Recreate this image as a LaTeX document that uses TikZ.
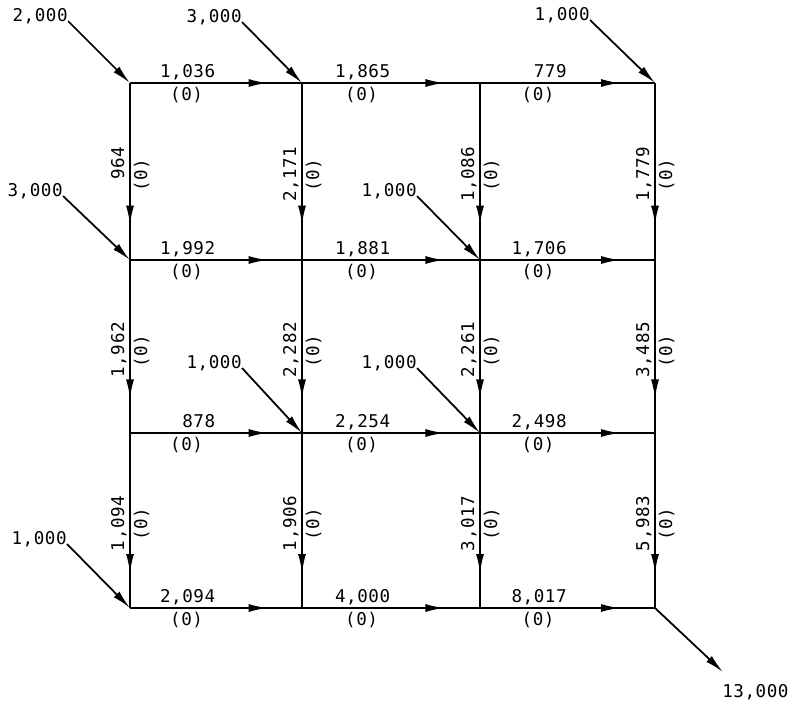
\documentclass[tikz,border=0pt]{standalone}
\usepackage{fontspec}
\usetikzlibrary{arrows.meta, decorations.markings}
\newfontfamily\flowmono{DejaVu Sans Mono}[LetterSpace=3]

\begin{document}
\begin{tikzpicture}[
      flow/.style={line width=1pt, postaction={decorate},
        decoration={markings, mark=at position 0.8 with {\arrow{Latex[length=0.38cm,width=0.16cm]}}}},
      inflow/.style={line width=1pt, -{Latex[length=0.38cm,width=0.16cm]}},
      amount/.style={font={\flowmono\fontsize{10}{12}\selectfont}, inner sep=0pt},
      val/.style={amount, text width=1.14cm, align=right, text depth=0pt, inner ysep=0.1cm, pos=0.5, anchor=south east},
      zero/.style={amount, text width=1.14cm, align=center, inner ysep=0.06cm, pos=0.5, anchor=north east},
      vval/.style={val, rotate=90, pos=0.355},
      vzero/.style={zero, rotate=90, pos=0.355},
    ]
    \useasboundingbox (0,0) rectangle (15.8,-14);

    % junctions
    \coordinate (j11) at (2.6,-1.66);
    \coordinate (j12) at (6.04,-1.66);
    \coordinate (j13) at (9.6,-1.66);
    \coordinate (j14) at (13.1,-1.66);
    \coordinate (j21) at (2.6,-5.2);
    \coordinate (j22) at (6.04,-5.2);
    \coordinate (j23) at (9.6,-5.2);
    \coordinate (j24) at (13.1,-5.2);
    \coordinate (j31) at (2.6,-8.66);
    \coordinate (j32) at (6.04,-8.66);
    \coordinate (j33) at (9.6,-8.66);
    \coordinate (j34) at (13.1,-8.66);
    \coordinate (j41) at (2.6,-12.16);
    \coordinate (j42) at (6.04,-12.16);
    \coordinate (j43) at (9.6,-12.16);
    \coordinate (j44) at (13.1,-12.16);

    % horizontal pipes
    \draw[flow] (j11) -- node[val] {1,036} node[zero] {(0)} (j12);
    \draw[flow] (j12) -- node[val] {1,865} node[zero] {(0)} (j13);
    \draw[flow] (j13) -- node[val] {779} node[zero] {(0)} (j14);
    \draw[flow] (j21) -- node[val] {1,992} node[zero] {(0)} (j22);
    \draw[flow] (j22) -- node[val] {1,881} node[zero] {(0)} (j23);
    \draw[flow] (j23) -- node[val] {1,706} node[zero] {(0)} (j24);
    \draw[flow] (j31) -- node[val] {878} node[zero] {(0)} (j32);
    \draw[flow] (j32) -- node[val] {2,254} node[zero] {(0)} (j33);
    \draw[flow] (j33) -- node[val] {2,498} node[zero] {(0)} (j34);
    \draw[flow] (j41) -- node[val] {2,094} node[zero] {(0)} (j42);
    \draw[flow] (j42) -- node[val] {4,000} node[zero] {(0)} (j43);
    \draw[flow] (j43) -- node[val] {8,017} node[zero] {(0)} (j44);

    % vertical pipes
    \draw[flow] (j11) -- node[vval] {964} node[vzero] {(0)} (j21);
    \draw[flow] (j21) -- node[vval] {1,962} node[vzero] {(0)} (j31);
    \draw[flow] (j31) -- node[vval] {1,094} node[vzero] {(0)} (j41);
    \draw[flow] (j12) -- node[vval] {2,171} node[vzero] {(0)} (j22);
    \draw[flow] (j22) -- node[vval] {2,282} node[vzero] {(0)} (j32);
    \draw[flow] (j32) -- node[vval] {1,906} node[vzero] {(0)} (j42);
    \draw[flow] (j13) -- node[vval] {1,086} node[vzero] {(0)} (j23);
    \draw[flow] (j23) -- node[vval] {2,261} node[vzero] {(0)} (j33);
    \draw[flow] (j33) -- node[vval] {3,017} node[vzero] {(0)} (j43);
    \draw[flow] (j14) -- node[vval] {1,779} node[vzero] {(0)} (j24);
    \draw[flow] (j24) -- node[vval] {3,485} node[vzero] {(0)} (j34);
    \draw[flow] (j34) -- node[vval] {5,983} node[vzero] {(0)} (j44);

    % supplies
    \node[amount, anchor=base east] (q1) at (1.36,-0.42) {2,000};
    \node[amount, anchor=base east] (q2) at (4.84,-0.44) {3,000};
    \node[amount, anchor=base east] (q3) at (11.8,-0.40) {1,000};
    \node[amount, anchor=base east] (q4) at (1.26,-3.92) {3,000};
    \node[amount, anchor=base east] (q5) at (8.34,-3.92) {1,000};
    \node[amount, anchor=base east] (q6) at (4.84,-7.36) {1,000};
    \node[amount, anchor=base east] (q7) at (8.34,-7.36) {1,000};
    \node[amount, anchor=base east] (q8) at (1.34,-10.88) {1,000};
    \draw[inflow] (q1.base east) -- (j11);
    \draw[inflow] (q2.base east) -- (j12);
    \draw[inflow] (q3.base east) -- (j14);
    \draw[inflow] (q4.base east) -- (j21);
    \draw[inflow] (q5.base east) -- (j23);
    \draw[inflow] (q6.base east) -- (j32);
    \draw[inflow] (q7.base east) -- (j33);
    \draw[inflow] (q8.base east) -- (j41);

    % demand
    \coordinate (out) at (14.46,-13.44);
    \node[amount, anchor=north west] (d1) at (14.44,-13.68) {13,000};
    \draw[inflow] (j44) -- (out);
  \end{tikzpicture}
\end{document}
